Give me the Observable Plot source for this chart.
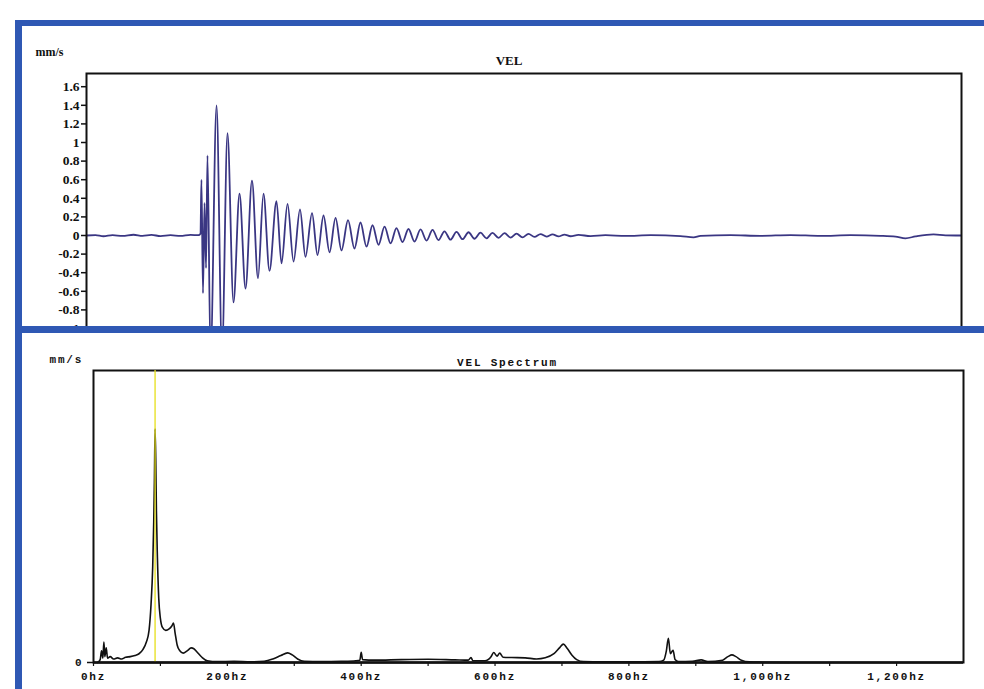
<!DOCTYPE html>
<html><head><meta charset="utf-8">
<script src="https://cdn.jsdelivr.net/npm/d3@7"></script>
<script src="https://cdn.jsdelivr.net/npm/@observablehq/plot@0.6"></script>
<style>
body{margin:0;background:#fff;}
#page{position:relative;width:984px;height:689px;overflow:hidden;background:#fff;}
.abs{position:absolute;}
.blue{position:absolute;background:#2f58b4;}
</style></head><body><div id="page">
<div id="top" class="abs" style="left:0;top:0;width:984px;height:400px"></div>
<div id="bottom" class="abs" style="left:0;top:326px;width:984px;height:363px;background:#fff"></div>
<div class="blue" style="left:15px;top:20px;width:969px;height:6px"></div>
<div class="blue" style="left:15px;top:20px;width:7px;height:669px"></div>
<div class="blue" style="left:15px;top:326px;width:969px;height:7px"></div>
</div>
<script>
// ---- Top panel: VEL waveform (time in ms, velocity in mm/s) ----
const velTime = [0, 8.2, 15.5, 23.8, 32.9, 43.0, 51.2, 59.4, 67.7, 76.8, 85.9, 95.1, 102.4, 104.2,
  105.1, 106.5, 107.9, 109.3, 110.6, 113.4, 118.9, 123.9, 128.9, 134.4, 139.9, 145.4, 151.3, 156.8,
  161.8, 167.3, 173.7, 178.3, 183.8, 189.3, 195.2, 200.2, 206.2, 211.2, 216.7, 222.2, 227.7, 233.1,
  239.1, 245.0, 250.5, 256.0, 261.5, 267.0, 272.5, 278.0, 283.4, 288.9, 294.4, 299.9, 305.4, 310.9,
  316.4, 321.8, 327.3, 332.8, 338.3, 343.8, 349.3, 354.7, 360.2, 365.7, 371.2, 376.7, 382.2, 387.7,
  393.2, 398.6, 404.1, 409.6, 415.1, 420.6, 426.1, 431.6, 437.0, 442.5, 449.8, 460.8, 474.5, 492.8,
  515.7, 543.1, 555.0, 561.4, 588.8, 616.2, 643.7, 671.1, 698.5, 726.0, 739.7, 748.8, 757.9, 774.4,
  785.4, 800.0];
const velValue = [0.000, 0.005, -0.008, 0.004, -0.005, 0.008, -0.004, 0.006, -0.006, 0.003, -0.005, 0.006, 0.004, 0.02,
  0.60, -0.62, 0.35, -0.35, 0.86, -1.30, 1.40, -1.25, 1.10, -0.72, 0.45, -0.57, 0.59, -0.46,
  0.45, -0.38, 0.37, -0.30, 0.34, -0.28, 0.28, -0.23, 0.24, -0.21, 0.215, -0.18, 0.19, -0.16,
  0.165, -0.14, 0.14, -0.12, 0.11, -0.10, 0.095, -0.085, 0.08, -0.07, 0.07, -0.065, 0.065, -0.055,
  0.06, -0.05, 0.045, -0.045, 0.04, -0.04, 0.035, -0.035, 0.03, -0.03, 0.028, -0.025, 0.025, -0.022,
  0.02, -0.02, 0.018, -0.015, 0.015, -0.012, 0.012, -0.01, 0.01, -0.008, 0.006, -0.006, 0.004, -0.005,
  0.003, -0.006, -0.02, -0.005, 0.004, -0.004, 0.005, -0.004, 0.003, -0.003, -0.012, -0.03, -0.01, 0.012,
  0.002, 0.0];
const velTicks = [-1, -0.8, -0.6, -0.4, -0.2, 0, 0.2, 0.4, 0.6, 0.8, 1, 1.2, 1.4, 1.6];

// ---- Bottom panel: VEL spectrum (frequency in Hz, relative amplitude) ----
const specFreq = [6, 10, 12, 14, 15.5, 17, 19, 21, 25, 30, 36, 42, 48, 55, 62, 68, 74, 79, 83, 86, 88.5, 90, 91, 92, 93, 94,
  95.5, 97.5, 100, 103, 108, 113, 117, 119.5, 122, 125, 129, 134, 140, 146, 150, 155, 162, 170, 185, 210, 235, 255,
  268, 280, 290, 297, 305, 315, 340, 370, 392, 398, 400, 402, 420, 460, 500, 540, 560, 564, 567, 585, 594, 598, 603,
  607, 612, 625, 645, 662, 675, 688, 697, 702, 708, 715, 722, 732, 760, 800, 845, 852, 856, 859, 862, 866, 869, 874,
  895, 908, 918, 940, 948, 954, 960, 968, 980, 1000, 1040];
const specAmp = [0.0, 0.01, 0.04, 0.015, 0.07, 0.02, 0.05, 0.015, 0.02, 0.012, 0.016, 0.012, 0.018, 0.02, 0.024, 0.03, 0.045, 0.07, 0.11, 0.20, 0.33, 0.48, 0.62, 0.80, 0.70, 0.52,
  0.36, 0.22, 0.15, 0.12, 0.11, 0.115, 0.125, 0.135, 0.10, 0.06, 0.04, 0.032, 0.04, 0.05, 0.047, 0.035, 0.018, 0.006, 0.003, 0.004, 0.002, 0.004,
  0.012, 0.024, 0.033, 0.026, 0.012, 0.004, 0.003, 0.004, 0.006, 0.008, 0.035, 0.01, 0.008, 0.01, 0.011, 0.009, 0.008, 0.017, 0.006, 0.006, 0.02, 0.034, 0.022,
  0.032, 0.018, 0.017, 0.016, 0.012, 0.016, 0.03, 0.052, 0.063, 0.048, 0.025, 0.01, 0.003, 0.002, 0.002, 0.003, 0.008, 0.04, 0.083, 0.03, 0.042, 0.01, 0.003,
  0.004, 0.009, 0.003, 0.008, 0.02, 0.026, 0.02, 0.008, 0.002, 0.001, 0.0];
const freqTicks = [0, 100, 200, 300, 400, 500, 600, 700, 800, 900, 1000, 1100, 1200];
const cursorFreq = [92];

const velData = velTime.map((t, i) => ({t, v: velValue[i]}));
const specData = specFreq.map((f, i) => ({f, a: specAmp[i]}));

const topPlot = Plot.plot({
  width: 984, height: 400,
  marginLeft: 86, marginRight: 23, marginTop: 73, marginBottom: 3,
  x: {domain: [0, 800], axis: null},
  y: {domain: [-1.742, 1.742], axis: null},
  style: {fontFamily: "'Liberation Serif', serif", fontWeight: "bold", fontSize: "13px", color: "#111", background: "transparent"},
  marks: [
    Plot.line(velData, {x: "t", y: "v", stroke: "#3a3683", strokeWidth: 1.8, curve: "monotone-x", clip: true}),
    Plot.frame({stroke: "#111", strokeWidth: 2}),
    Plot.axisY(velTicks, {label: null, tickSize: 5, tickPadding: 2, strokeWidth: 1.5, fontSize: 13.5,
      tickFormat: d => String(+d.toFixed(1))}),
    Plot.text(["VEL"], {frameAnchor: "top", dx: -15, dy: -18, fontSize: 13}),
    Plot.text(["mm/s"], {frameAnchor: "top-left", textAnchor: "start", dx: -51, dy: -26, fontSize: 12})
  ]
});
d3.select(topPlot).selectAll("text").style("font-weight", "bold");
document.getElementById("top").appendChild(topPlot);

const botPlot = Plot.plot({
  width: 984, height: 363,
  marginLeft: 93, marginRight: 21, marginTop: 44, marginBottom: 27,
  x: {domain: [0, 1300], axis: null},
  y: {domain: [0, 1], axis: null},
  style: {fontFamily: "'Liberation Mono', monospace", fontWeight: "bold", fontSize: "11px", color: "#111", background: "transparent"},
  marks: [
    Plot.frame({stroke: "#111", strokeWidth: 2}),
    Plot.line(specData, {x: "f", y: "a", stroke: "#111", strokeWidth: 1.6, curve: "monotone-x"}),
    Plot.ruleX(cursorFreq, {stroke: "#e6df1a", strokeWidth: 1.3}),
    Plot.ruleY([0], {stroke: "#111", strokeWidth: 2.5}),
    Plot.axisX(freqTicks, {label: null, tickSize: 4, tickPadding: 6, strokeWidth: 1.2,
      tickFormat: d => d % 200 === 0 ? d3.format(",")(d) + "hz" : ""}),
    Plot.axisY([0], {label: null, tickSize: 6, tickPadding: 4, strokeWidth: 1.5, tickFormat: d => String(d)}),
    Plot.text(["VEL Spectrum"], {frameAnchor: "top", dx: -21, dy: -12, fontSize: 11}),
    Plot.text(["mm/s"], {frameAnchor: "top-left", textAnchor: "start", dx: -44, dy: -15, fontSize: 11})
  ]
});
d3.select(botPlot).selectAll("text").style("letter-spacing", "1.8px").style("font-weight", "bold");
document.getElementById("bottom").appendChild(botPlot);
</script>
</body></html>
